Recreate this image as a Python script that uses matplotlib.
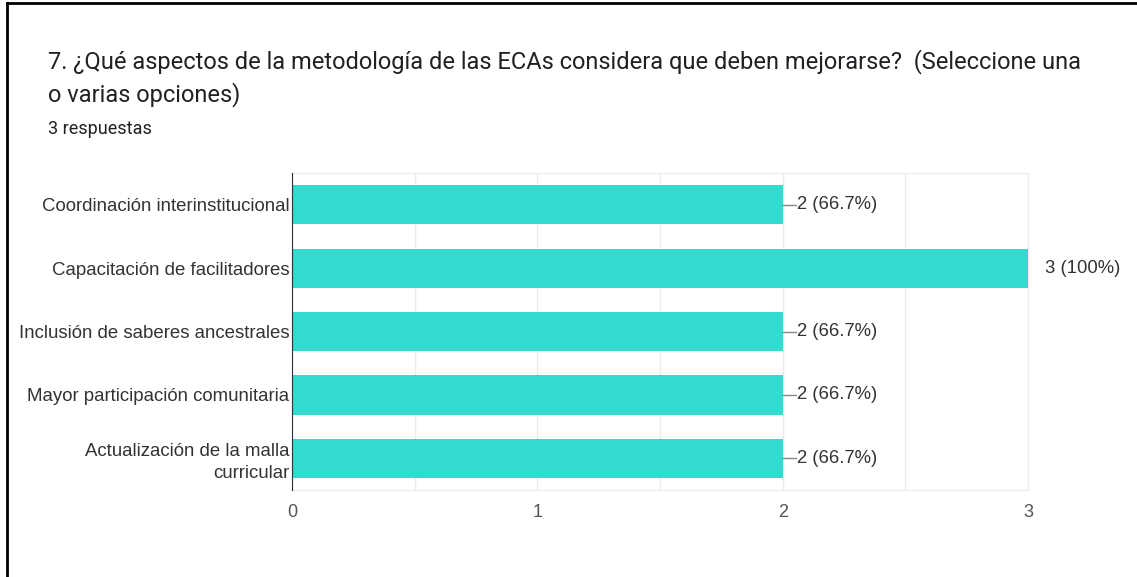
import matplotlib.pyplot as plt
from matplotlib.lines import Line2D

# datos
categorias = [
    "Coordinación interinstitucional",
    "Capacitación de facilitadores",
    "Inclusión de saberes ancestrales",
    "Mayor participación comunitaria",
    "Actualización de la malla\ncurricular",
]
valores = [2, 3, 2, 2, 2]
etiquetas = ["2 (66.7%)", "3 (100%)", "2 (66.7%)", "2 (66.7%)", "2 (66.7%)"]
ticks_x = [0, 1, 2, 3]

color_barra = "#34d9cf"
fuente = "Liberation Sans"

fig = plt.figure(figsize=(11.37, 5.77), dpi=100)
ax = fig.add_axes([0.2568, 0.1508, 0.6473, 0.5492])

pos = list(range(len(categorias)))
ax.barh(pos, valores, height=0.62, color=color_barra, zorder=3)
ax.set_ylim(len(categorias) - 0.5, -0.5)
ax.set_xlim(0, 3)

# rejilla cada 0.5
ax.set_xticks(ticks_x)
ax.set_xticks([0.5, 1.5, 2.5], minor=True)
ax.grid(axis="x", which="both", color="#ebebeb", linewidth=1, zorder=0)
ax.tick_params(axis="x", which="both", length=0, pad=10, labelsize=13,
               labelcolor="#555555")
ax.set_xticklabels([str(t) for t in ticks_x], family=fuente)

ax.set_yticks(pos)
ax.set_yticklabels(categorias, family=fuente, fontsize=13.4,
                   color="#333333", linespacing=1.35)
ax.tick_params(axis="y", length=0, pad=2)

for lado in ["top", "right", "bottom"]:
    ax.spines[lado].set_color("#ebebeb")
ax.spines["left"].set_color("#333333")
ax.spines["left"].set_zorder(4)

# etiquetas de valor con línea guía
for p, v, txt in zip(pos, valores, etiquetas):
    if v < 3:
        ax.plot([v, v + 0.055], [p, p], color="#888888", linewidth=1,
                zorder=4, clip_on=False)
        ax.text(v + 0.058, p, txt, va="center", ha="left", fontsize=13.3,
                family=fuente, color="#333333")
    else:
        ax.text(v + 0.07, p, txt, va="center", ha="left", fontsize=13.3,
                family=fuente, color="#333333", clip_on=False)

# títulos
fig.text(48 / 1137, 1 - 68 / 577,
         "7. ¿Qué aspectos de la metodología de las ECAs considera que deben mejorarse?  (Seleccione una",
         fontsize=17, family="Roboto", color="#202124", va="baseline")
fig.text(48 / 1137, 1 - 101 / 577, "o varias opciones)",
         fontsize=17, family="Roboto", color="#202124", va="baseline")
fig.text(48 / 1137, 1 - 134 / 577, "3 respuestas",
         fontsize=13, family="Roboto", color="#202124", va="baseline")

# marco de la captura (arriba e izquierda)
fig.add_artist(Line2D([7 / 1137, 1], [1 - 3 / 577, 1 - 3 / 577],
                      color="black", linewidth=2))
fig.add_artist(Line2D([7 / 1137, 7 / 1137], [0, 1 - 3 / 577],
                      color="black", linewidth=2))

fig.savefig("out.png", dpi=100)
